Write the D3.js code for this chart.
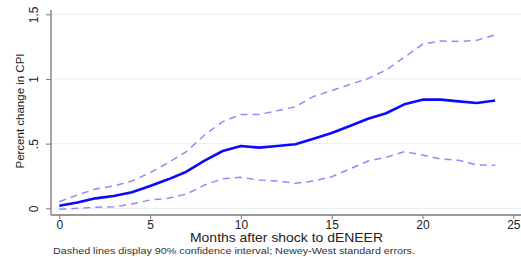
<!DOCTYPE html>
<html>
<head>
<meta charset="utf-8">
<script src="https://cdn.jsdelivr.net/npm/d3@7"></script>
<style>
  body { margin: 0; background: #fff; }
  svg { display: block; font-family: "Liberation Sans", Arial, sans-serif; }
</style>
</head>
<body>
<div id="chart"></div>
<script>
const months = d3.range(0, 25);
const irf = [0.02, 0.045, 0.077, 0.095, 0.124, 0.172, 0.224, 0.283, 0.368, 0.443, 0.482, 0.469, 0.482, 0.495, 0.538,
    0.582, 0.636, 0.693, 0.735, 0.804, 0.84, 0.84, 0.827, 0.814, 0.834];
const upper = [0.051, 0.103, 0.149, 0.172, 0.211, 0.275, 0.353, 0.438, 0.567, 0.67, 0.725, 0.725, 0.755, 0.785, 0.865,
    0.91, 0.957, 1.003, 1.07, 1.168, 1.268, 1.294, 1.289, 1.3, 1.34];
const lower = [-0.008, 0.0, 0.008, 0.012, 0.033, 0.064, 0.077, 0.11, 0.18, 0.229, 0.24, 0.219, 0.211, 0.193, 0.211,
    0.244, 0.304, 0.366, 0.394, 0.438, 0.412, 0.381, 0.371, 0.335, 0.333];
const xTicks = [0, 5, 10, 15, 20, 25];
const yTicks = [0, 0.5, 1, 1.5];
const yTickLabels = ["0", ".5", "1", "1.5"];

const width = 521;
const height = 257;

const svg = d3.select("#chart")
    .append("svg")
    .attr("width", width)
    .attr("height", height);

const x = d3.scaleLinear().domain([0, 25]).range([59.3, 513.3]);
const y = d3.scaleLinear().domain([0, 1.5]).range([208.3, 14.3]);

// grid
svg.selectAll(".grid")
    .data(yTicks)
    .enter()
    .append("line")
    .attr("x1", 52)
    .attr("x2", width)
    .attr("y1", d => y(d))
    .attr("y2", d => y(d))
    .attr("stroke", "#e6eff1")
    .attr("stroke-width", 1);

// y axis
const yAxis = svg.append("g")
    .attr("transform", "translate(51,0)")
    .call(d3.axisLeft(y).tickValues(yTicks).tickFormat((d, i) => yTickLabels[i]).tickSize(5).tickSizeOuter(0));
yAxis.select(".domain").attr("d", "M0,10V215").attr("stroke", "#777").attr("stroke-width", 1.3);
yAxis.selectAll(".tick line").attr("stroke", "#777");
yAxis.selectAll(".tick text")
    .attr("transform", "rotate(-90)")
    .attr("x", 0)
    .attr("y", -17)
    .attr("dy", "0.35em")
    .attr("text-anchor", "middle")
    .attr("fill", "#222")
    .style("font-size", "12px");

// x axis
const xAxis = svg.append("g")
    .attr("transform", "translate(0,215)")
    .call(d3.axisBottom(x).tickValues(xTicks).tickSize(4).tickSizeOuter(0));
xAxis.select(".domain").attr("d", "M51,0H" + width).attr("stroke", "#777").attr("stroke-width", 1.3);
xAxis.selectAll(".tick line").attr("stroke", "#777");
xAxis.selectAll(".tick text")
    .attr("y", 5)
    .attr("fill", "#222")
    .style("font-size", "12px");

// titles
svg.append("text")
    .attr("transform", "translate(20,111) rotate(-90)")
    .attr("text-anchor", "middle")
    .attr("dy", "0.35em")
    .attr("fill", "#222")
    .style("font-size", "11.5px")
    .text("Percent change in CPI");

svg.append("text")
    .attr("x", 190)
    .attr("y", 242)
    .attr("fill", "#222")
    .attr("textLength", 193)
    .attr("lengthAdjust", "spacingAndGlyphs")
    .style("font-size", "13px")
    .text("Months after shock to dENEER");

svg.append("text")
    .attr("x", 53)
    .attr("y", 253.5)
    .attr("fill", "#333")
    .attr("textLength", 362)
    .attr("lengthAdjust", "spacingAndGlyphs")
    .style("font-size", "9.5px")
    .text("Dashed lines display 90% confidence interval; Newey-West standard errors.");

const line = d3.line()
    .x((d, i) => x(months[i]))
    .y(d => y(d));

[upper, lower].forEach(band => {
    svg.append("path")
        .datum(band)
        .attr("d", line)
        .attr("fill", "none")
        .attr("stroke", "#8c8cff")
        .attr("stroke-width", 1.5)
        .attr("stroke-dasharray", "7,5");
});

svg.append("path")
    .datum(irf)
    .attr("d", line)
    .attr("fill", "none")
    .attr("stroke", "#0a0aff")
    .attr("stroke-width", 2.6)
    .attr("stroke-linejoin", "round");
</script>
</body>
</html>
